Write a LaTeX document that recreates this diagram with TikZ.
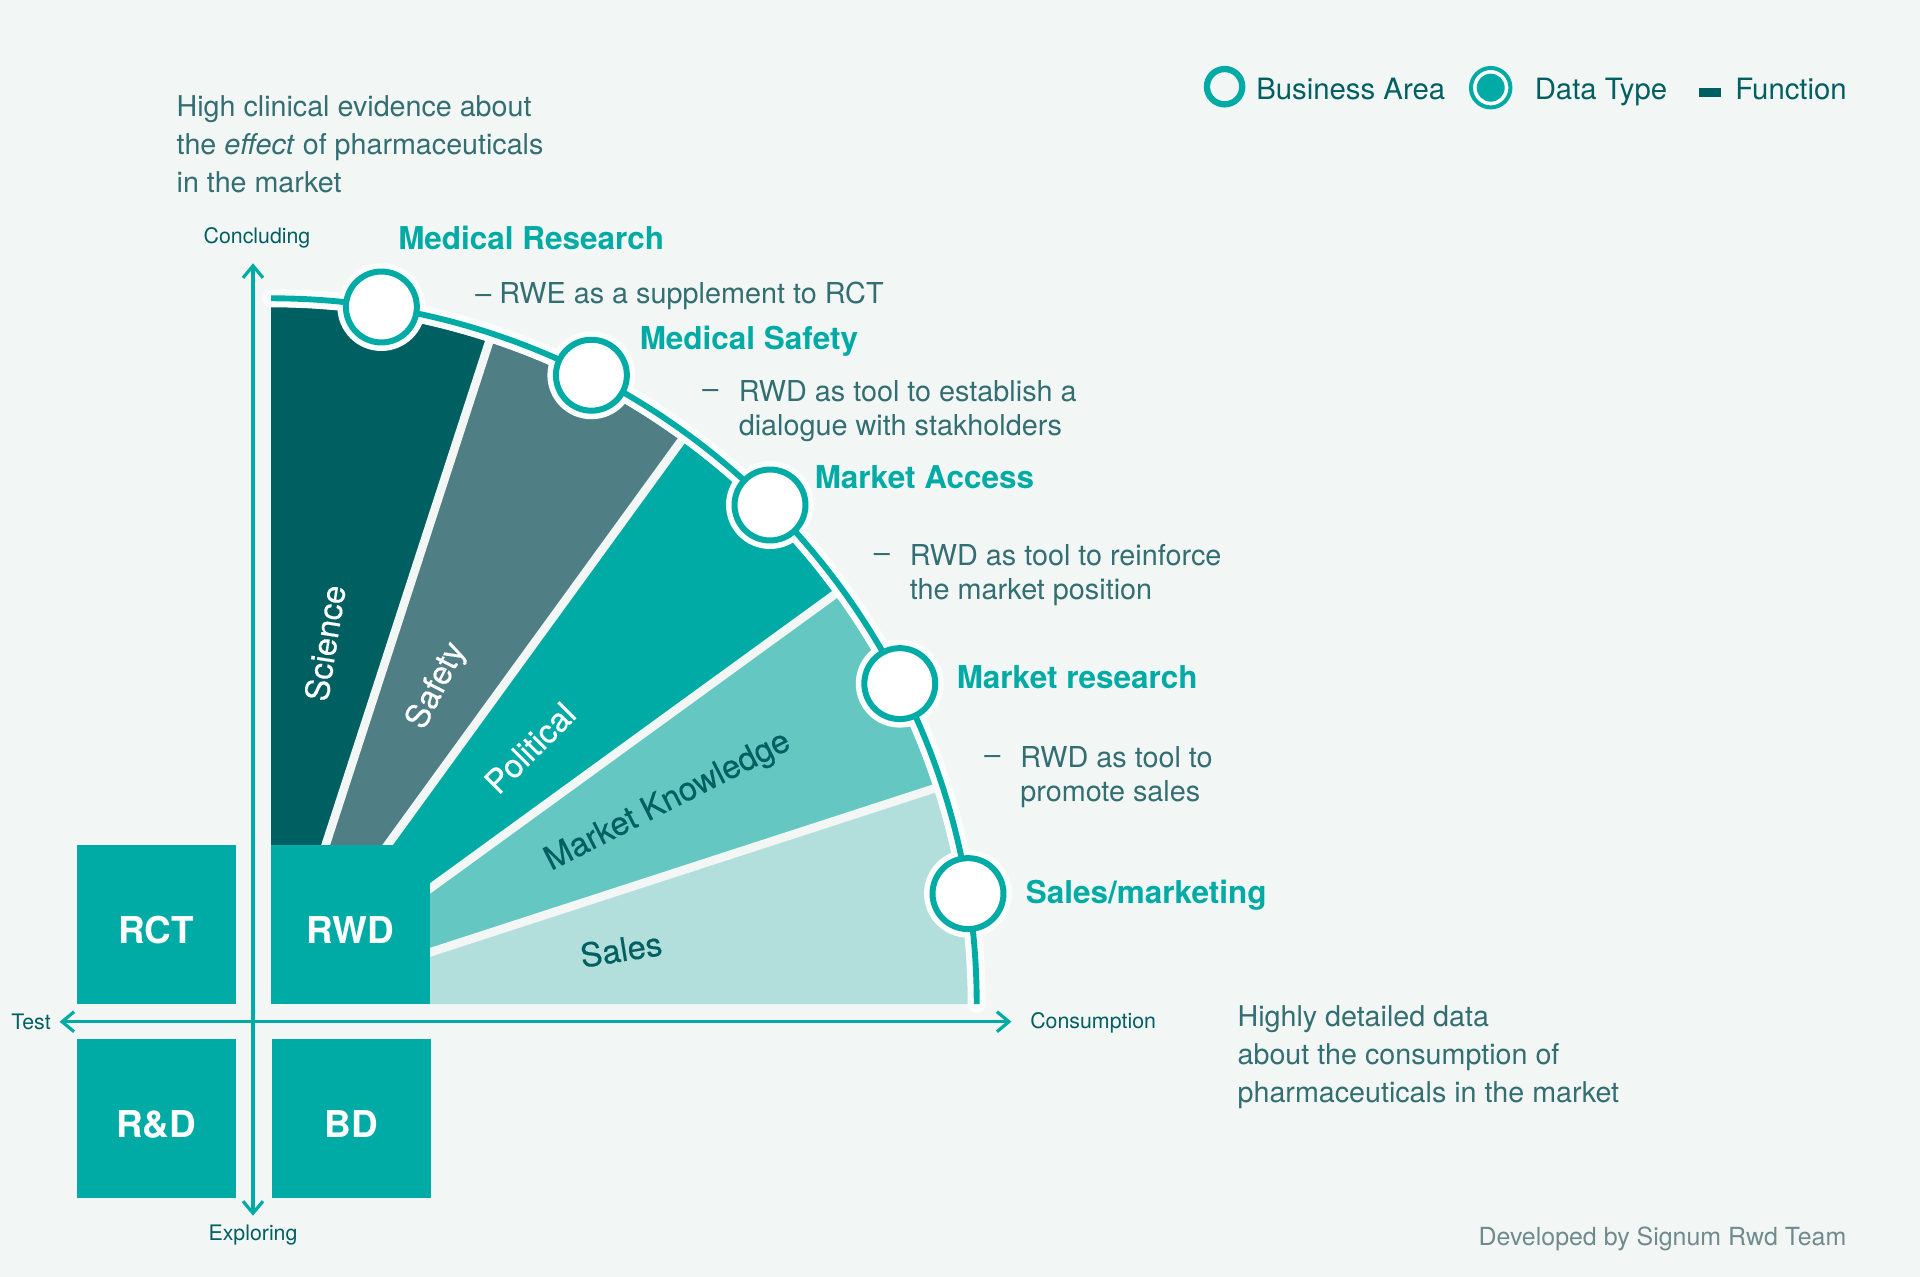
\documentclass[tikz,border=0pt]{standalone}
\usepackage{fontspec}
\setmainfont{TeX Gyre Heros}
\newfontfamily\medfont[FakeBold=0.35]{TeX Gyre Heros}
\usetikzlibrary{arrows.meta}
\definecolor{bgc}{HTML}{F2F6F5}
\definecolor{halo}{HTML}{FBFDFC}
\definecolor{teal1}{HTML}{00ABA5}
\definecolor{dark1}{HTML}{005F60}
\definecolor{safe1}{HTML}{4F7F84}
\definecolor{know1}{HTML}{65C7C2}
\definecolor{sale1}{HTML}{B2DFDC}
\definecolor{txt1}{HTML}{336E72}
\definecolor{foot1}{HTML}{708A8E}
\tikzset{
  box/.style={fill=teal1,text=white,inner sep=0pt,minimum width=119.1pt,minimum height=119.1pt},
  boxtext/.style={inner sep=0pt,text=white,anchor=base,font=\fontsize{27.7}{30}\selectfont\bfseries},
  bizdot/.style={circle,draw=teal1,fill=white,line width=4.5pt,minimum size=53.2pt,inner sep=0pt},
  halodot/.style={fill=halo},
  title/.style={anchor=base west,inner sep=0pt,text=teal1,font=\fontsize{23.6}{28}\selectfont\bfseries},
  desc/.style={anchor=west,inner sep=0pt,align=left,text=txt1,font=\fontsize{21.6}{25.7}\selectfont},
  note/.style={anchor=north west,inner sep=0pt,align=left,text=txt1,font=\fontsize{21.5}{28.5}\selectfont},
  axlabel/.style={inner sep=0pt,text=dark1,font=\fontsize{16}{18}\selectfont},
  legend/.style={anchor=base west,inner sep=0pt,text=dark1,font=\fontsize{22}{26}\selectfont},
  seclabel/.style={inner sep=0pt,font=\fontsize{24.6}{28}\medfont},
  sep/.style={draw=bgc,line width=6.4pt},
  axis/.style={draw=teal1,line width=2.4pt,{Straight Barb[length=9pt,width=15pt]}-{Straight Barb[length=9pt,width=15pt]}},
}
\begin{document}
\begin{tikzpicture}[x=0.75pt,y=-0.75pt]
\useasboundingbox (0,0) rectangle (1920,1277);
\fill[bgc] (0,0) rectangle (1920,1277);
% fan, in a y-up frame centred on the RWD corner
\begin{scope}[shift={(271,1004)},y=0.75pt]
  \fill[dark1] (0,0) -- (90:697) arc[start angle=90,end angle=72,radius=697] -- cycle;
  \fill[safe1] (0,0) -- (72:697) arc[start angle=72,end angle=54,radius=697] -- cycle;
  \fill[teal1] (0,0) -- (54:697) arc[start angle=54,end angle=36,radius=697] -- cycle;
  \fill[know1] (0,0) -- (36:697) arc[start angle=36,end angle=18,radius=697] -- cycle;
  \fill[sale1] (0,0) -- (18:697) arc[start angle=18,end angle=0,radius=697] -- cycle;
  \draw[sep,shift={(3,0)}] (0,0) -- (72:700);
  \draw[sep,shift={(1,0)}] (0,0) -- (54:700);
  \draw[sep] (0,0) -- (36:700);
  \draw[sep] (0,0) -- (18:700);
  \draw[halo,line width=13.5pt,line cap=round] (90:705.7) arc[start angle=90,end angle=0,radius=705.7];
  \foreach \a in {81,63,45,27,9} \fill[halodot] (\a:705.7) circle (33pt);
  \draw[teal1,line width=4.4pt] (90:705.7) arc[start angle=90,end angle=0,radius=705.7];
  \node[bizdot] (dotA) at (81:705.7) {};
  \node[bizdot] (dotB) at (63:705.7) {};
  \node[bizdot] (dotC) at (45:705.7) {};
  \node[bizdot] (dotD) at (27:705.7) {};
  \node[bizdot] (dotE) at (9:705.7) {};
\end{scope}
% boxes
\node[box] (rwd) at (350.5,924.5) {};
\node[box] (rct) at (156.1,924.5) {};
\node[box] (rnd) at (156.1,1118.8) {};
\node[box] (bd) at (351.4,1118.8) {};
\node[boxtext] (rwdt) at (350.5,943) {RWD};
\node[boxtext] (rctt) at (156.1,943) {RCT};
\node[boxtext] (rndt) at (156.1,1137.3) {R\&D};
\node[boxtext] (bdt) at (351.4,1137.3) {BD};
% axes
\coordinate (axT) at (253,263.3);
\coordinate (axB) at (253,1215.7);
\coordinate (axL) at (59.6,1021.7);
\coordinate (axR) at (1011.4,1021.7);
\draw[axis] (axB) -- (axT);
\draw[axis] (axL) -- (axR);
\node[axlabel] (lC) at (257,237.5) {Concluding};
\node[axlabel] (lE) at (253,1235) {Exploring};
\node[axlabel] (lT) at (31,1022) {Test};
\node[axlabel,anchor=west] (lR) at (1030,1023) {Consumption};
% section labels
\node[seclabel,text=white,rotate=81] (s1) at (325,643) {Science};
\node[seclabel,text=white,rotate=63] (s2) at (437,686) {Safety};
\node[seclabel,text=white,rotate=45] (s3) at (530,748) {Political};
\node[seclabel,text=dark1,rotate=27] (s4) at (668,802) {Market Knowledge};
\node[seclabel,text=dark1,rotate=9] (s5) at (621,949.5) {Sales};
% titles
\node[title] (t1) at (398,249) {Medical Research};
\node[title] (t2) at (639.5,349) {Medical Safety};
\node[title] (t3) at (814.5,488.6) {Market Access};
\node[title] (t4) at (956.5,688.6) {Market research};
\node[title] (t5) at (1025.6,903.6) {Sales/marketing};
% descriptions
\node[desc] (d1) at (475,296) {– RWE as a supplement to RCT};
\node[desc] (d2a) at (702,394) {–};
\node[desc] (d2) at (738.5,411) {RWD as tool to establish a\\dialogue with stakholders};
\node[desc] (d3a) at (873.6,558) {–};
\node[desc] (d3) at (909.5,575) {RWD as tool to reinforce\\the market position};
\node[desc] (d4a) at (984,760) {–};
\node[desc] (d4) at (1020,777) {RWD as tool to\\promote sales};
% notes
\node[note] (n1) at (176.4,95) {High clinical evidence about\\the \textit{effect} of pharmaceuticals\\in the market};
\node[note] (n2) at (1237.4,1005) {Highly detailed data\\about the consumption of\\pharmaceuticals in the market};
% legend
\node[circle,draw=teal1,fill=bgc,line width=4.7pt,minimum size=26.5pt,inner sep=0pt] (lgA) at (1224.6,86.7) {};
\node[legend] (lgAt) at (1256,100) {Business Area};
\node[circle,draw=teal1,fill=white,line width=3pt,minimum size=29.6pt,inner sep=0pt] (lgB) at (1490.7,87.7) {};
\node[circle,fill=teal1,minimum size=21pt,inner sep=0pt] (lgBi) at (lgB) {};
\node[legend] (lgBt) at (1534.5,100) {Data Type};
\node[fill=dark1,minimum width=16.2pt,minimum height=6.5pt,inner sep=0pt] (lgC) at (1709.8,92.3) {};
\node[legend] (lgCt) at (1735,100) {Function};
\node[anchor=east,inner sep=0pt,text=foot1,font=\fontsize{18.7}{22}\selectfont] (foot) at (1846.5,1238.5) {Developed by Signum Rwd Team};
\end{tikzpicture}
\end{document}
